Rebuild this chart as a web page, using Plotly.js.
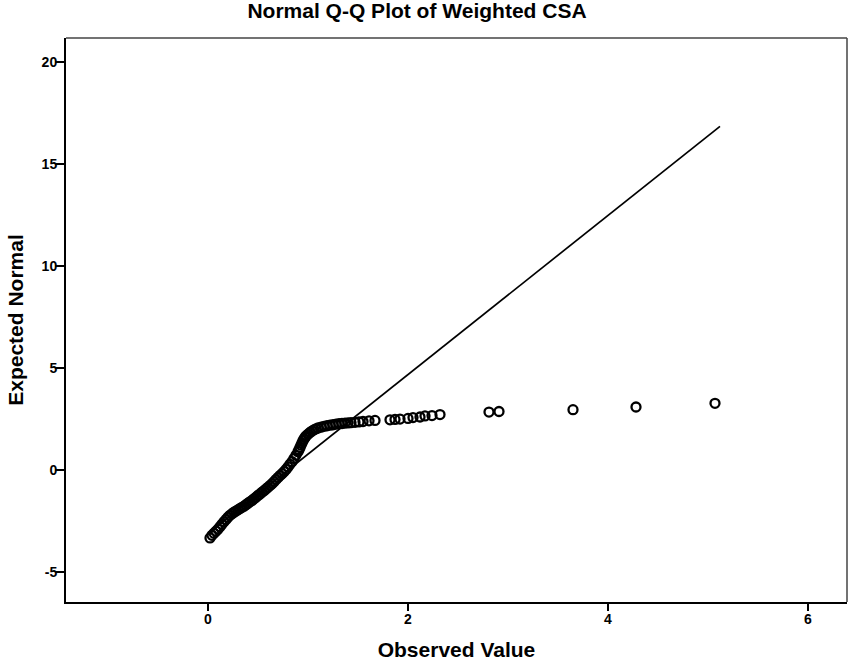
<!DOCTYPE html>
<html>
<head>
<meta charset="utf-8">
<script src="https://cdn.plot.ly/plotly-3.0.1.min.js"></script>
<style>html,body{margin:0;padding:0;background:#fff;}#chart{width:849px;height:663px;}</style>
</head>
<body>
<div id="chart"></div>
<script>
var observed = [
  0.02,0.04,0.06,0.08,0.10,0.12,0.14,0.16,0.18,0.20,
  0.22,0.24,0.26,0.28,0.30,0.32,0.34,0.36,0.38,0.40,
  0.42,0.44,0.46,0.48,0.50,0.52,0.54,0.56,0.58,0.60,
  0.62,0.64,0.66,0.68,0.70,0.72,0.74,0.76,0.78,0.80,
  0.82,0.84,0.86,0.88,0.90,0.91,0.92,0.93,0.94,0.95,
  0.96,0.97,0.98,1.00,1.02,1.04,1.06,1.08,1.10,1.13,
  1.16,1.19,1.22,1.25,1.28,1.31,1.34,1.37,1.40,1.43,
  1.47,1.51,1.55,1.61,1.67,1.82,1.87,1.92,2.00,2.05,
  2.12,2.17,2.24,2.32,2.81,2.91,3.65,4.28,5.07
];
var expectedNormal = [
  -3.33,-3.20,-3.10,-3.00,-2.90,-2.78,-2.66,-2.54,-2.42,-2.31,
  -2.22,-2.14,-2.07,-2.01,-1.95,-1.89,-1.83,-1.77,-1.70,-1.63,
  -1.56,-1.49,-1.41,-1.33,-1.25,-1.17,-1.09,-1.01,-0.93,-0.85,
  -0.76,-0.67,-0.57,-0.47,-0.37,-0.27,-0.18,-0.08,0.03,0.15,
  0.28,0.41,0.56,0.72,0.90,1.00,1.11,1.22,1.33,1.43,
  1.52,1.60,1.67,1.76,1.84,1.91,1.97,2.02,2.06,2.10,
  2.14,2.17,2.20,2.22,2.25,2.27,2.28,2.30,2.31,2.32,
  2.34,2.36,2.38,2.41,2.43,2.46,2.48,2.50,2.53,2.57,
  2.60,2.65,2.67,2.72,2.84,2.87,2.96,3.09,3.27
];
// Reference line endpoints
var refLineX = [0.01, 5.12];
var refLineY = [-3.08, 16.85];
// Tick values
var xTicks = [0, 2, 4, 6];
var yTicks = [-5, 0, 5, 10, 15, 20];

var FONT = 'Liberation Sans, Arial, Helvetica, sans-serif';

var traces = [
  {
    x: refLineX, y: refLineY, type: 'scatter', mode: 'lines',
    line: {color: '#000', width: 1.7}, hoverinfo: 'skip', showlegend: false
  },
  {
    x: observed, y: expectedNormal, type: 'scatter', mode: 'markers',
    marker: {symbol: 'circle-open', size: 9, color: '#000', line: {color: '#000', width: 2.3}},
    showlegend: false
  }
];

var layout = {
  width: 849, height: 663,
  paper_bgcolor: '#fff', plot_bgcolor: '#fff',
  margin: {l: 66, r: 2, t: 38, b: 61, pad: 0},
  title: {
    text: 'Normal Q-Q Plot of Weighted CSA',
    font: {family: FONT, size: 21, color: '#000', weight: 'bold'},
    x: 417 / 849, xanchor: 'center', xref: 'container',
    y: 1 - 11 / 663, yref: 'container', yanchor: 'middle'
  },
  xaxis: {
    range: [-1.42, 6.39], tickvals: xTicks, ticktext: xTicks.map(String),
    showgrid: false, zeroline: false,
    showline: true, linecolor: '#000', linewidth: 2,
    ticks: 'outside', ticklen: 7, tickwidth: 2, tickcolor: '#000',
    ticklabelstandoff: -4,
    tickfont: {family: FONT, size: 14, color: '#000', weight: 'bold'},
    title: {text: 'Observed Value', font: {family: FONT, size: 21, color: '#000', weight: 'bold'}, standoff: 17}
  },
  yaxis: {
    range: [-6.47, 21.18], tickvals: yTicks, ticktext: yTicks.map(String),
    showgrid: false, zeroline: false,
    showline: true, linecolor: '#000', linewidth: 2,
    ticks: 'outside', ticklen: 9, tickwidth: 2, tickcolor: '#000',
    ticklabelstandoff: -5,
    tickfont: {family: FONT, size: 14, color: '#000', weight: 'bold'},
    title: {text: 'Expected Normal', font: {family: FONT, size: 21, color: '#000', weight: 'bold'}, standoff: 12}
  },
  shapes: [
    {type: 'line', xref: 'paper', yref: 'paper', x0: 0, x1: 1, y0: 1, y1: 1, line: {color: '#444', width: 1.5}},
    {type: 'line', xref: 'paper', yref: 'paper', x0: 1, x1: 1, y0: 0, y1: 1, line: {color: '#444', width: 1.5}}
  ]
};

Plotly.newPlot('chart', traces, layout, {displayModeBar: false, staticPlot: true});
</script>
</body>
</html>
